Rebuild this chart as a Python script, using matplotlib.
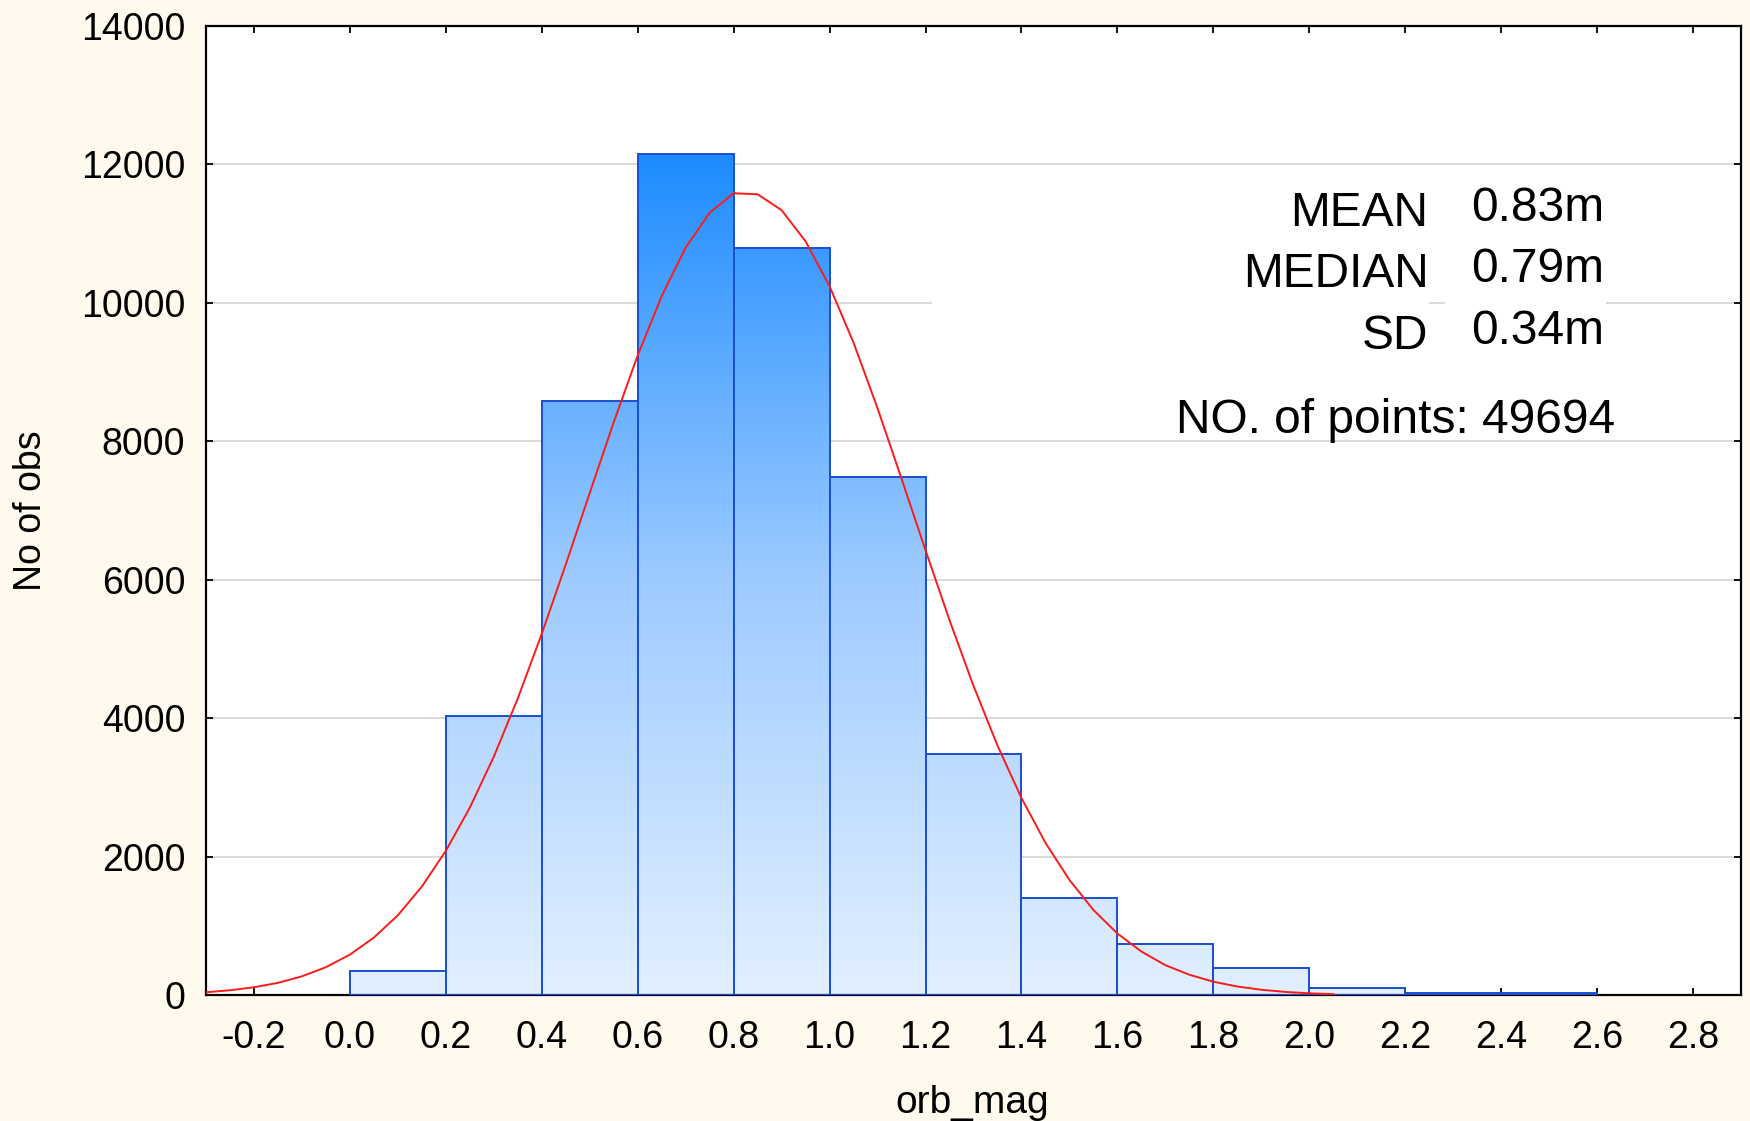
import matplotlib.pyplot as plt
import numpy as np
from matplotlib.colors import LinearSegmentedColormap
from matplotlib.patches import Rectangle

# histogram of orb_mag, bins of 0.2
bin_left = [0.0, 0.2, 0.4, 0.6, 0.8, 1.0, 1.2, 1.4, 1.6, 1.8, 2.0, 2.2, 2.4]
counts = [350, 4040, 8580, 12150, 10790, 7490, 3480, 1410, 740, 395, 110, 40, 40]
bin_width = 0.2

# fitted normal curve
curve_x = [-0.30, -0.25, -0.20, -0.15, -0.10, -0.05, 0.00, 0.05, 0.10, 0.15,
           0.20, 0.25, 0.30, 0.35, 0.40, 0.45, 0.50, 0.55, 0.60, 0.65,
           0.70, 0.75, 0.80, 0.85, 0.90, 0.95, 1.00, 1.05, 1.10, 1.15,
           1.20, 1.25, 1.30, 1.35, 1.40, 1.45, 1.50, 1.55, 1.60, 1.65,
           1.70, 1.75, 1.80, 1.85, 1.90, 1.95, 2.00, 2.05]
curve_y = [46, 75, 118, 182, 276, 408, 590, 836, 1158, 1572,
           2088, 2712, 3448, 4289, 5224, 6223, 7256, 8278, 9244, 10100,
           10801, 11303, 11585, 11570, 11340, 10890, 10240, 9425, 8478, 7462,
           6428, 5419, 4470, 3608, 2850, 2204, 1667, 1234, 894, 634,
           437, 299, 198, 129, 82, 51, 31, 19]

stat_labels = ["MEAN", "MEDIAN", "SD"]
stat_values = ["0.83m", "0.79m", "0.34m"]
n_points = 49694

x_ticks = [-0.2, 0.0, 0.2, 0.4, 0.6, 0.8, 1.0, 1.2, 1.4, 1.6, 1.8, 2.0, 2.2, 2.4, 2.6, 2.8]
y_ticks = [0, 2000, 4000, 6000, 8000, 10000, 12000, 14000]

plt.rcParams["font.family"] = ["Liberation Sans", "DejaVu Sans"]

bg = "#fff9ee"
fig = plt.figure(figsize=(17.5, 11.21), dpi=100, facecolor=bg)
ax = fig.add_axes([0.1177, 0.112, 0.8772, 0.8648])
ax.set_facecolor("white")

ax.yaxis.grid(True, color="#d9d9d9", lw=1.4, zorder=0)
ax.set_axisbelow(True)

# white boxes behind the stats text (they hide the 10000 gridline)
ax.add_patch(Rectangle((0.4727, 0.66), 0.3243, 0.09, transform=ax.transAxes,
                       facecolor="white", edgecolor="none", zorder=0.8))
ax.add_patch(Rectangle((0.8073, 0.66), 0.1047, 0.09, transform=ax.transAxes,
                       facecolor="white", edgecolor="none", zorder=0.8))

# gradient fill, colour goes with absolute height
cmap = LinearSegmentedColormap.from_list("bars", ["#e2efff", "#9ccaff", "#1e8cff"])
ymax = max(counts)
grad = np.linspace(0, 1, 256).reshape(-1, 1)
for x0, h in zip(bin_left, counts):
    rect = Rectangle((x0, 0), bin_width, h, facecolor="none",
                     edgecolor="#1a4fd0", lw=1.4, zorder=3)
    ax.add_patch(rect)
    frac = h / ymax
    img = ax.imshow(grad[: max(2, int(256 * frac))], cmap=cmap, vmin=0, vmax=1,
                    origin="lower", aspect="auto",
                    extent=(x0, x0 + bin_width, 0, h), zorder=2,
                    interpolation="bilinear")
    img.set_clip_path(rect)

ax.set_xlim(-0.3, 2.9)
ax.set_ylim(0, 14000)

ax.plot(curve_x, curve_y, color="#ff1a1a", lw=1.4, zorder=4)

ax.set_xticks(x_ticks)
ax.set_xticklabels([f"{v:.1f}" for v in x_ticks])
ax.set_yticks(y_ticks)
ax.tick_params(direction="in", length=5, width=1.3, labelsize=27,
               top=True, right=True, colors="black")
ax.tick_params(axis="x", pad=18)
ax.tick_params(axis="y", pad=15)
for s in ax.spines.values():
    s.set_linewidth(1.6)
    s.set_color("black")

# stats text
lab_y = [0.807, 0.744, 0.680]
val_y = [0.812, 0.749, 0.685]
for lbl, yy in zip(stat_labels, lab_y):
    ax.text(0.7964, yy, lbl, transform=ax.transAxes, ha="right", va="center",
            fontsize=34.5, zorder=5)
for val, yy in zip(stat_values, val_y):
    ax.text(0.824, yy, val, transform=ax.transAxes, ha="left", va="center",
            fontsize=34.5, zorder=5)
ax.text(0.632, 0.593, f"NO. of points: {n_points}", transform=ax.transAxes,
        ha="left", va="center", fontsize=34.5, zorder=5)

fig.text(0.0177, 0.544, "No of obs", rotation=90, ha="center", va="center", fontsize=27)
fig.text(0.5554, 0.0071, "orb_mag", ha="center", va="baseline", fontsize=28)

fig.savefig("out.png", dpi=100, facecolor=bg)
